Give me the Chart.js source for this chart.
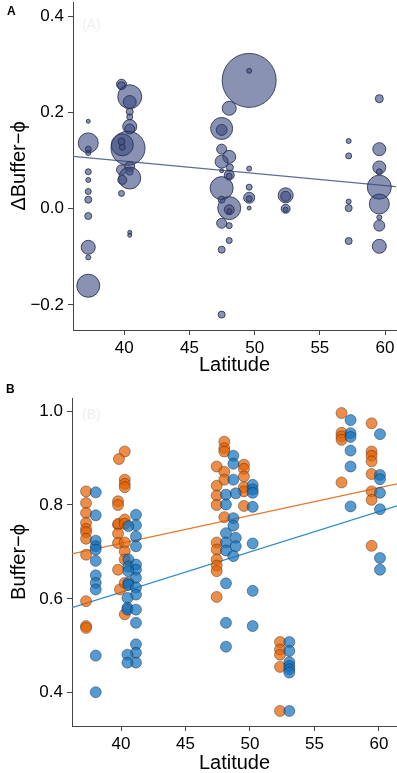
<!DOCTYPE html>
<html>
<head>
<meta charset="utf-8">
<script src="https://cdn.jsdelivr.net/npm/chart.js@4"></script>
<style>
  html, body { margin:0; padding:0; background:#fff; }
  body { width:397px; height:773px; position:relative; overflow:hidden; font-family:"Liberation Sans", Arial, Helvetica, sans-serif; }
  canvas { position:absolute; left:0; }
  .lbl { position:absolute; font-weight:bold; font-size:12px; line-height:1; color:#000; }
  .faint { position:absolute; font-size:14px; line-height:1; color:#efefef; }
</style>
</head>
<body>
<canvas id="cA" width="397" height="380" style="top:0;width:397px;height:380px"></canvas>
<canvas id="cB" width="397" height="393" style="top:380px;width:397px;height:393px"></canvas>
<div class="lbl" style="left:7px;top:5px">A</div>
<div class="lbl" style="left:6px;top:383px">B</div>
<div class="faint" style="left:82px;top:17px">(A)</div>
<div class="faint" style="left:82px;top:407px">(B)</div>
<script>
// ---------- Panel A data ----------
const latA = [
  37.24,37.24,37.24,37.24,37.24,37.24,37.24,37.24,37.24,37.24,37.24,37.24,
  39.79,39.79,40.42,40.42,40.42,40.42,40.42,40.42,40.29,39.85,39.79,39.85,39.79,40.42,40.42,40.42,39.85,39.79,40.42,40.42,
  49.58,49.58,48.05,47.47,47.47,47.47,48.05,47.47,48.10,48.05,48.05,47.47,49.58,47.47,47.47,49.58,49.58,49.58,49.58,48.05,48.05,48.05,
  52.38,52.38,52.38,52.38,47.47,48.05,48.05,47.47,47.47,
  57.21,57.21,57.21,57.21,57.21,
  59.56,59.56,59.56,59.56,59.56,59.56,59.56,59.56,59.56
];
const deltaA = [
  0.182,0.137,0.124,0.116,0.077,0.060,0.036,0.019,-0.015,-0.080,-0.101,-0.160,
  0.259,0.256,0.233,0.222,0.202,0.191,0.171,0.166,0.126,0.133,0.140,0.128,0.081,0.088,0.077,0.064,0.060,0.032,-0.049,-0.055,
  0.267,0.287,0.209,0.167,0.164,0.124,0.108,0.098,0.086,0.070,0.068,0.079,0.0836,0.043,0.019,0.045,0.023,0.021,0.0015,0.0015,-0.002,-0.005,
  0.028,0.026,0.000,-0.002,-0.030,-0.035,-0.066,-0.085,-0.220,
  0.141,0.110,0.015,0.0015,-0.067,
  0.229,0.124,0.086,0.077,0.045,0.010,-0.018,-0.035,-0.078
];
const weightA = [
  2,10,3,2.5,3,2.5,3,3.5,3.5,7,2.5,11.5,
  5,4,12,6.5,3.5,3,7,5,17,11,3.5,3,5,5,3.5,11,4.5,3,2,2,
  27,2.5,7,11,5.5,5,6.5,6.5,3.5,5,3,2,2.5,11.5,3.5,3,5.5,3,2,11.5,5,2.5,
  7.5,5,4.5,2.5,5,3,3,3.5,3.5,
  2.5,3,2.5,3.5,3.5,
  4,6.5,6.5,3,12,10,2.5,5.5,7
];
const fitA = { intercept: 0.2007, slope: -0.002543 };
const xTicksA = [40,45,50,55,60];
const yTicksA = [-0.2,0.0,0.2,0.4];

// ---------- Panel B data ----------
const orangeLat = [
  37.29,37.29,37.29,37.29,37.29,37.29,37.29,37.29,37.29,37.29,37.29,
  40.29,39.84,40.29,40.29,40.29,39.77,39.77,39.77,39.80,40.29,40.29,39.77,39.77,40.29,40.29,40.29,39.77,39.92,40.29,40.29,
  48.01,48.01,48.01,47.42,48.01,49.53,49.53,49.53,48.01,47.42,47.42,47.42,49.53,49.53,49.53,48.01,47.42,47.42,47.42,47.42,47.42,47.42,
  52.33,52.33,52.33,52.33,52.33,
  57.10,57.10,57.10,57.10,57.10,
  59.43,59.43,59.43,59.43,59.43,59.43,59.43,59.43
];
const orangeVal = [
  0.829,0.804,0.783,0.762,0.749,0.742,0.728,0.694,0.595,0.542,0.538,
  0.914,0.898,0.854,0.845,0.838,0.808,0.800,0.758,0.760,0.769,0.760,0.739,0.719,0.720,0.701,0.684,0.662,0.620,0.567,0.634,
  0.935,0.921,0.914,0.882,0.871,0.886,0.877,0.861,0.854,0.841,0.820,0.800,0.838,0.829,0.798,0.774,0.720,0.705,0.684,0.671,0.659,0.604,
  0.508,0.492,0.481,0.455,0.361,
  0.996,0.954,0.946,0.939,0.848,
  0.974,0.914,0.905,0.893,0.866,0.829,0.811,0.713
];
const blueLat = [
  38.04,38.04,38.04,38.04,38.04,38.04,38.04,38.04,38.04,38.04,38.04,
  41.16,41.16,41.16,41.16,40.57,40.57,40.57,41.16,41.16,40.57,41.16,40.57,40.57,41.16,41.16,40.50,40.50,40.50,41.16,41.16,41.16,41.16,41.16,40.50,40.50,
  48.71,48.71,48.71,50.21,50.21,50.21,48.14,48.14,48.90,50.21,48.71,48.71,48.14,48.14,48.90,48.90,48.14,50.21,48.71,48.14,50.21,48.14,50.21,48.14,
  53.05,53.05,53.05,53.05,53.05,53.05,53.05,
  57.80,57.80,57.80,57.80,57.80,57.80,
  60.08,60.08,60.08,60.08,60.08,60.08,60.08
];
const blueVal = [
  0.827,0.778,0.724,0.712,0.705,0.681,0.650,0.634,0.620,0.479,0.401,
  0.779,0.757,0.733,0.712,0.755,0.684,0.669,0.673,0.662,0.659,0.645,0.634,0.630,0.624,0.609,0.602,0.581,0.577,0.577,0.549,0.503,0.485,0.464,0.481,0.464,
  0.905,0.888,0.854,0.843,0.833,0.826,0.822,0.801,0.825,0.796,0.772,0.756,0.740,0.720,0.730,0.712,0.703,0.718,0.691,0.633,0.617,0.549,0.542,0.498,
  0.508,0.489,0.465,0.457,0.450,0.443,0.361,
  0.981,0.953,0.945,0.916,0.882,0.797,
  0.951,0.864,0.855,0.826,0.791,0.687,0.662
];
const fitOrange = { intercept: 0.4819, slope: 0.005913 };
const fitBlue = { intercept: 0.2693, slope: 0.008611 };
const xTicksB = [40,45,50,55,60];
const yTicksB = [0.4,0.6,0.8,1.0];

// ---------- common styling ----------
const FONT = '"Liberation Sans", Arial, Helvetica, sans-serif';
const AXIS = '#444';
const minus = v => (v < 0 ? '\u2212' : '') + Math.abs(v).toFixed(1);
const fitLine = (f, x0, x1) => [{x:x0, y:f.intercept + f.slope*x0}, {x:x1, y:f.intercept + f.slope*x1}];
const noPad = s => { s.paddingTop = 0; s.paddingBottom = 0; s.paddingLeft = 0; s.paddingRight = 0; };

function axisX(min, max, ticks, titlePadBottom, height) {
  return {
    type:'linear', min, max,
    afterBuildTicks: s => { s.ticks = ticks.map(v => ({value:v})); },
    afterFit: s => { s.height = height; noPad(s); },
    grid:{ display:true, drawOnChartArea:false, drawTicks:true, tickLength:5, color:AXIS, lineWidth:1 },
    border:{ display:true, color:AXIS, width:1 },
    ticks:{ color:'#000', padding:3, font:{ family:FONT, size:17 }, callback: v => String(v) },
    title:{ display:true, text:'Latitude', color:'#000', font:{ family:FONT, size:20, lineHeight:1 }, padding:{ top:0, bottom:titlePadBottom } }
  };
}
function axisY(min, max, ticks, title, width) {
  return {
    type:'linear', min, max,
    afterBuildTicks: s => { s.ticks = ticks.map(v => ({value:v})); },
    afterFit: s => { s.width = width; noPad(s); },
    grid:{ display:true, drawOnChartArea:false, drawTicks:true, tickLength:5, color:AXIS, lineWidth:1 },
    border:{ display:true, color:AXIS, width:1 },
    ticks:{ color:'#000', padding:4, font:{ family:FONT, size:17 }, callback: v => minus(v) },
    title:{ display:true, text:title, color:'#000', font:{ family:FONT, size:20, lineHeight:1 }, padding:{ top:9, bottom:0 } }
  };
}
const baseOpts = {
  responsive:false, maintainAspectRatio:false, animation:false, devicePixelRatio:1,
  plugins:{ legend:{ display:false }, tooltip:{ enabled:false } }
};

// ---------- Panel A ----------
const xMinA = 36.07, xMaxA = 60.84;
new Chart(document.getElementById('cA'), {
  type:'bubble',
  data:{ datasets:[
    { type:'bubble',
      data: latA.map((x,i) => ({x, y:deltaA[i], r:weightA[i]})),
      backgroundColor:'rgba(58,74,128,0.6)', borderColor:'rgba(40,48,80,0.85)', borderWidth:1, clip:false },
    { type:'line', data: fitLine(fitA, xMinA, xMaxA),
      borderColor:'#5d6d99', borderWidth:1.2, pointRadius:0, fill:false }
  ]},
  options:Object.assign({}, baseOpts, {
    layout:{ autoPadding:false, padding:{ top:2, right:1, left:0, bottom:0 } },
    scales:{
      x: axisX(xMinA, xMaxA, xTicksA, 5, 50),
      y: axisY(-0.252, 0.43, yTicksA, '\u0394Buffer\u2212\u03D5', 73)
    }
  })
});

// ---------- Panel B ----------
const xMinB = 36.2, xMaxB = 61.4;
new Chart(document.getElementById('cB'), {
  type:'scatter',
  data:{ datasets:[
    { type:'line', data: fitLine(fitOrange, xMinB, xMaxB), borderColor:'#e8762b', borderWidth:1.3, pointRadius:0, fill:false, order:3 },
    { type:'line', data: fitLine(fitBlue, xMinB, xMaxB), borderColor:'#2f8ccc', borderWidth:1.3, pointRadius:0, fill:false, order:3 },
    { type:'scatter', data: orangeLat.map((x,i) => ({x, y:orangeVal[i]})),
      pointRadius:5.5, backgroundColor:'rgba(230,97,1,0.72)', borderColor:'rgba(60,40,20,0.55)', borderWidth:0.8, order:2, clip:false },
    { type:'scatter', data: blueLat.map((x,i) => ({x, y:blueVal[i]})),
      pointRadius:5.5, backgroundColor:'rgba(20,115,190,0.72)', borderColor:'rgba(20,30,50,0.55)', borderWidth:0.8, order:1, clip:false }
  ]},
  options:Object.assign({}, baseOpts, {
    layout:{ autoPadding:false, padding:{ top:18, right:0, left:0, bottom:0 } },
    scales:{
      x: axisX(xMinB, xMaxB, xTicksB, 0, 47),
      y: axisY(0.329, 1.028, yTicksB, 'Buffer\u2212\u03D5', 72)
    }
  })
});
</script>
</body>
</html>
